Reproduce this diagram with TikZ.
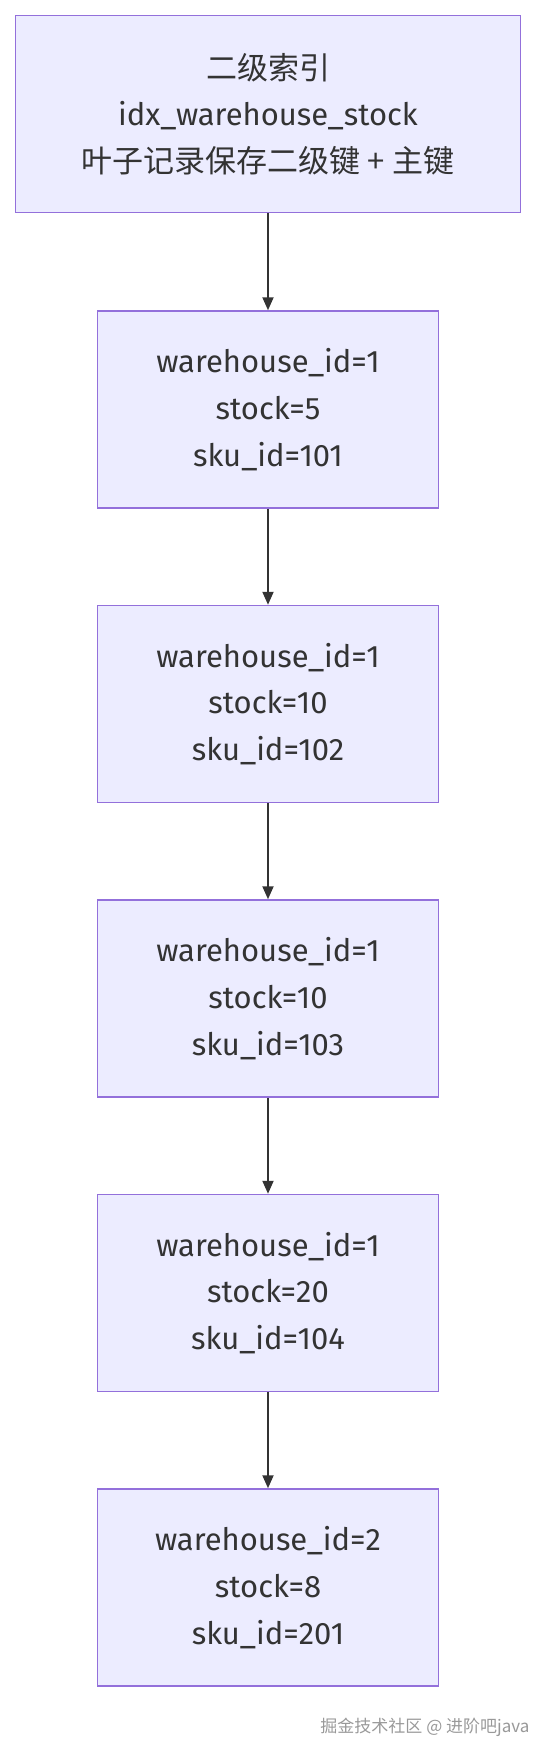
\documentclass[tikz,border=0pt]{standalone}
\usepackage{fontspec}
\setmainfont{Fira Sans}
\newfontfamily\cjk{Noto Sans CJK SC}
\usetikzlibrary{positioning, arrows.meta}
\definecolor{boxfill}{HTML}{ECECFF}
\definecolor{boxline}{HTML}{9370DB}
\definecolor{edgeline}{HTML}{333333}
\tikzstyle{record} = [rectangle, draw=boxline, line width=1.5pt, fill=boxfill, text=edgeline, minimum width=341pt, minimum height=197pt, align=center, font=\fontsize{31}{46.7}\selectfont, inner sep=0pt]
\tikzstyle{link} = [-{Triangle[length=13pt, width=11pt]}, draw=edgeline, line width=2pt]

\begin{document}
\begin{tikzpicture}[node distance=96pt]
        \useasboundingbox (0,0) rectangle (552pt,-1756pt);

        % Index head
        \node[record, minimum width=505pt] (head) at (268pt,-114pt) {{\cjk 二级索引}\\idx\_warehouse\_stock\\{\cjk 叶子记录保存二级键 + 主键}};

        % Leaf records
        \node[record, below=97pt of head] (rec1) {warehouse\_id=1\\stock=5\\sku\_id=101};
        \node[record, below=of rec1] (rec2) {warehouse\_id=1\\stock=10\\sku\_id=102};
        \node[record, below=of rec2] (rec3) {warehouse\_id=1\\stock=10\\sku\_id=103};
        \node[record, below=of rec3] (rec4) {warehouse\_id=1\\stock=20\\sku\_id=104};
        \node[record, below=of rec4] (rec5) {warehouse\_id=2\\stock=8\\sku\_id=201};

        % Links
        \draw[link] (head) -- (rec1);
        \foreach \a/\b in {rec1/rec2, rec2/rec3, rec3/rec4, rec4/rec5}
            \draw[link] (\a) -- (\b);

        % Watermark
        \node[anchor=east, text=gray!80, font=\cjk\fontsize{17}{20}\selectfont] (mark) at (533pt,-1727pt) {掘金技术社区 @ 进阶吧java};

    \end{tikzpicture}
\end{document}
